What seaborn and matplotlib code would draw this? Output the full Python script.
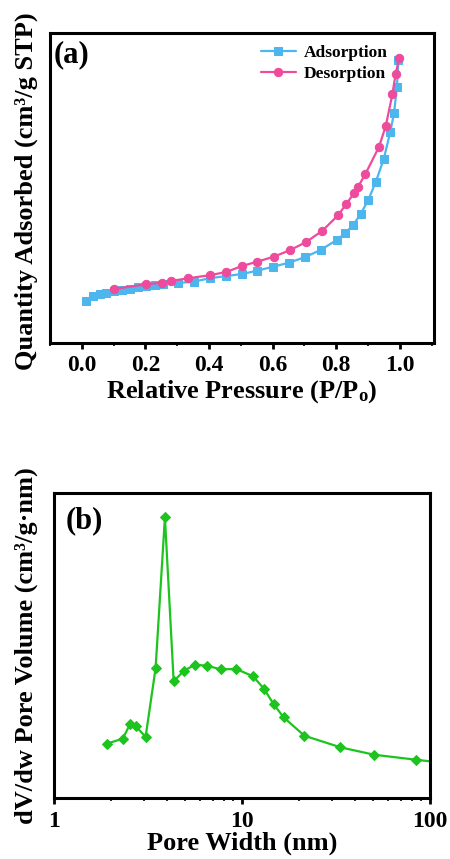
import matplotlib
matplotlib.use("Agg")
import matplotlib.pyplot as plt
import seaborn as sns
import numpy as np
import pandas as pd
from matplotlib.ticker import MultipleLocator, LogLocator, NullFormatter, FixedLocator

# ---------------- data (a) ----------------
ads_p = [0.012, 0.035, 0.057, 0.075, 0.10, 0.128, 0.153, 0.177, 0.203, 0.229, 0.255,
         0.303, 0.352, 0.402, 0.455, 0.504, 0.552, 0.602, 0.652, 0.701, 0.751, 0.802,
         0.828, 0.853, 0.877, 0.901, 0.925, 0.950, 0.970, 0.982, 0.991, 0.996]
ads_q = [42.3, 47.0, 49.0, 50.3, 52.3, 53.3, 54.3, 55.7, 57.0, 58.0, 59.0,
         60.0, 61.3, 64.7, 67.0, 69.0, 72.3, 76.3, 80.3, 85.7, 93.0, 103.0,
         109.7, 117.7, 129.0, 143.0, 161.3, 184.3, 211.0, 229.7, 256.3, 283.0]
des_p = [0.998, 0.987, 0.977, 0.956, 0.935, 0.892, 0.868, 0.856, 0.832, 0.806, 0.757,
         0.706, 0.656, 0.604, 0.552, 0.504, 0.455, 0.402, 0.334, 0.282, 0.253, 0.203, 0.101]
des_q = [284.7, 269.0, 249.0, 217.0, 196.3, 169.0, 155.7, 149.7, 139.0, 127.7, 112.3,
         101.0, 93.0, 86.3, 81.3, 77.0, 71.0, 67.7, 64.7, 62.0, 60.3, 58.7, 54.0]

# ---------------- data (b) ----------------
pore_w = [1.905, 2.32, 2.54, 2.73, 3.07, 3.47, 3.89, 4.33, 4.89, 5.61, 6.53, 7.69,
          9.32, 11.46, 13.12, 14.71, 16.64, 21.47, 33.4, 50.4, 84.1, 120.0]
pore_v = [54.3, 59.3, 74.0, 71.7, 61.0, 129.7, 280.7, 116.7, 127.0, 133.3, 132.3, 128.7,
          129.0, 121.7, 109.0, 94.0, 80.7, 62.3, 50.7, 43.3, 38.3, 35.0]

xticks_a = [0.0, 0.2, 0.4, 0.6, 0.8, 1.0]
xticklabels_a = ["0.0", "0.2", "0.4", "0.6", "0.8", "1.0"]
xticks_b = [1, 10, 100]
xticklabels_b = ["1", "10", "100"]

blue = "#4DB6EC"
pink = "#EE4B9C"
green = "#1DC41D"

sns.set_theme(style="ticks")
plt.rcParams['font.family'] = ['Liberation Serif', 'DejaVu Serif']
plt.rcParams['font.weight'] = 'bold'
plt.rcParams['text.color'] = 'black'
plt.rcParams['axes.labelcolor'] = 'black'
plt.rcParams['xtick.color'] = 'black'
plt.rcParams['ytick.color'] = 'black'
plt.rcParams['mathtext.fontset'] = 'custom'
plt.rcParams['mathtext.rm'] = 'Liberation Serif:bold'
plt.rcParams['mathtext.bf'] = 'Liberation Serif:bold'
plt.rcParams['mathtext.it'] = 'Liberation Serif:bold'

fig = plt.figure(figsize=(4.5, 8.59), dpi=100)
ax1 = fig.add_axes([0.111, 0.6007, 0.853, 0.361])
ax2 = fig.add_axes([0.120, 0.0710, 0.8356, 0.355])

df_a = pd.DataFrame({"p": ads_p, "q": ads_q})
df_d = pd.DataFrame({"p": des_p, "q": des_q})
sns.lineplot(data=df_a, x="p", y="q", ax=ax1, color=blue, marker="s", markersize=5.5,
             markeredgecolor=blue, linewidth=1.6, sort=False, label="Adsorption")
sns.lineplot(data=df_d, x="p", y="q", ax=ax1, color=pink, marker="o", markersize=6,
             markeredgecolor=pink, linewidth=1.6, sort=False, label="Desorption")

ax1.set_xlim(-0.1, 1.107)
ax1.set_ylim(0, 310)
ax1.set_yticks([])
ax1.set_xticks(xticks_a)
ax1.set_xticklabels(xticklabels_a)
ax1.xaxis.set_minor_locator(MultipleLocator(0.1))
ax1.set_xlabel("Relative Pressure (P/P$_\\mathbf{o}$)", fontsize=19, fontweight='bold', labelpad=1)
ax1.set_ylabel("Quantity Adsorbed (cm³/g STP)", fontsize=19, fontweight='bold')
ax1.yaxis.set_label_coords(-0.031, 0.49)
ax1.text(0.01, 0.93, "(a)", transform=ax1.transAxes, fontsize=22, fontweight='bold', va='center', ha='left')
leg = ax1.legend(loc="upper right", bbox_to_anchor=(0.92, 1.012), frameon=False, fontsize=12.5,
                 handlelength=2.0, handletextpad=0.45, labelspacing=0.3)
for t in leg.get_texts():
    t.set_fontweight('bold')

df_b = pd.DataFrame({"w": pore_w, "v": pore_v})
sns.lineplot(data=df_b, x="w", y="v", ax=ax2, color=green, marker="D", markersize=5.5,
             markeredgecolor=green, linewidth=1.6, sort=False)
ax2.set_xscale("log")
ax2.set_xlim(1, 100)
ax2.set_ylim(0, 305)
ax2.set_yticks([])
ax2.xaxis.set_major_locator(FixedLocator(xticks_b))
ax2.set_xticklabels(xticklabels_b)
ax2.xaxis.set_minor_locator(LogLocator(base=10, subs=np.arange(2, 10)))
ax2.xaxis.set_minor_formatter(NullFormatter())
ax2.set_xlabel("Pore Width (nm)", fontsize=19, fontweight='bold', labelpad=0)
ax2.set_ylabel("dV/dw Pore Volume (cm³/g·nm)", fontsize=19, fontweight='bold')
ax2.yaxis.set_label_coords(-0.043, 0.5)
ax2.text(0.03, 0.91, "(b)", transform=ax2.transAxes, fontsize=22, fontweight='bold', va='center', ha='left')

for ax in (ax1, ax2):
    for s in ax.spines.values():
        s.set_linewidth(2.2)
        s.set_color("black")
    ax.tick_params(axis='x', which='major', direction='out', length=4, width=2, labelsize=17,
                   pad=5, colors='black')
    ax.tick_params(axis='x', which='minor', direction='out', length=2.5, width=1.2)
    for lab in ax.get_xticklabels():
        lab.set_fontweight('bold')

fig.savefig("out.png", dpi=100)
